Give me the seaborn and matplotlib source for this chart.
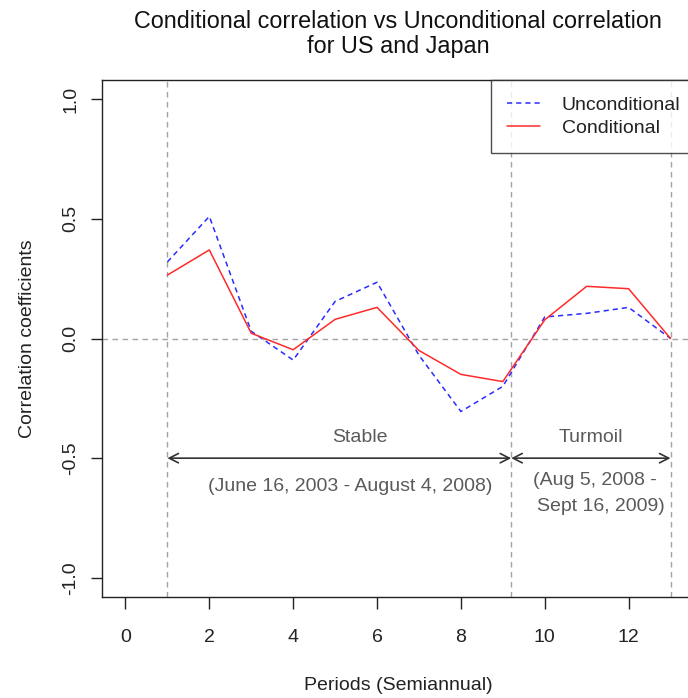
import matplotlib
matplotlib.use("Agg")
import matplotlib.pyplot as plt
import seaborn as sns
import pandas as pd

# Semiannual periods and correlation estimates
periods = [1, 2, 3, 4, 5, 6, 7, 8, 9, 10, 11, 12, 13]
unconditional = [0.32, 0.51, 0.03, -0.09, 0.155, 0.235, -0.07, -0.305, -0.20, 0.09, 0.105, 0.13, 0.0]
conditional = [0.265, 0.37, 0.022, -0.047, 0.08, 0.13, -0.05, -0.15, -0.18, 0.078, 0.218, 0.208, 0.0]

# Regime boundaries (in period units)
stable_start = 1
break_point = 9.2
turmoil_end = 13

x_ticks = [0, 2, 4, 6, 8, 10, 12]
y_ticks = [-1.0, -0.5, 0.0, 0.5, 1.0]
y_tick_labels = ["-1.0", "-0.5", "0.0", "0.5", "1.0"]

sns.set_style("ticks")
plt.rcParams["font.family"] = ["Liberation Sans", "DejaVu Sans"]

fig = plt.figure(figsize=(6.88, 6.98), dpi=100)
ax = fig.add_axes([102 / 688, 101 / 698, 592 / 688, 517 / 698])

df = pd.DataFrame({"period": periods, "Unconditional": unconditional, "Conditional": conditional})

grey = "#a3a3a3"
ax.axhline(0, color=grey, lw=1.0, dashes=(4, 3.2), zorder=1)
for xv in (stable_start, break_point, turmoil_end):
    ax.axvline(xv, color=grey, lw=1.0, dashes=(4, 3.2), zorder=1)

sns.lineplot(data=df, x="period", y="Unconditional", ax=ax, color="#2b2bff",
             lw=1.1, dashes=False, label="Unconditional", zorder=3)
ax.lines[-1].set_dashes((3.4, 2.6))
sns.lineplot(data=df, x="period", y="Conditional", ax=ax, color="#ff2b2b",
             lw=1.1, label="Conditional", zorder=3)

# Regime arrows and labels
arrow_kw = dict(arrowstyle="<->,head_length=0.55,head_width=0.28", color="#333333",
                lw=1.2, shrinkA=0, shrinkB=0, mutation_scale=12)
ax.annotate("", xy=(stable_start, -0.5), xytext=(break_point, -0.5), arrowprops=arrow_kw)
ax.annotate("", xy=(break_point, -0.5), xytext=(turmoil_end, -0.5), arrowprops=arrow_kw)

txt = "#5a5a5a"
ax.text(5.6, -0.415, "Stable", ha="center", va="center", fontsize=14, color=txt)
ax.text(11.1, -0.415, "Turmoil", ha="center", va="center", fontsize=14, color=txt)
ax.text(5.37, -0.62, "(June 16, 2003 - August 4, 2008)", ha="center", va="center",
        fontsize=14, color=txt)
ax.text(11.2, -0.595, "(Aug 5, 2008 -", ha="center", va="center", fontsize=14, color=txt)
ax.text(11.35, -0.70, "Sept 16, 2009)", ha="center", va="center", fontsize=14, color=txt)

ax.set_xlim(-0.56, 13.56)
ax.set_ylim(-1.08, 1.08)
ax.set_xticks(x_ticks)
ax.set_xticklabels([str(v) for v in x_ticks])
ax.set_yticks(y_ticks)
ax.set_yticklabels(y_tick_labels, rotation=90, va="center")

ax.tick_params(axis="x", length=8.6, width=1.0, pad=14.5, labelsize=14, colors="#222222")
ax.tick_params(axis="y", length=8, width=1.0, pad=8.5, labelsize=14, colors="#222222")
for s in ax.spines.values():
    s.set_linewidth(1.0)
    s.set_color("#222222")

ax.set_xlabel("Periods (Semiannual)", fontsize=14, color="#222222")
ax.set_ylabel("Correlation coefficients", fontsize=14, color="#222222")
ax.xaxis.set_label_coords(0.5, -0.154)
ax.yaxis.set_label_coords(-0.111, 0.5)

fig.text(398 / 688, 1 - 34 / 698,
         "Conditional correlation vs Unconditional correlation\nfor US and Japan",
         ha="center", va="center", fontsize=16.8, linespacing=1.15, color="#111111")

leg = ax.legend(loc="upper right", bbox_to_anchor=(1 + 3 / 592, 1), frameon=True,
                fancybox=False, fontsize=14, borderaxespad=0, handlelength=1.7,
                handletextpad=1.1, labelspacing=0.25, borderpad=0.85)
leg.get_frame().set_edgecolor("#222222")
leg.get_frame().set_linewidth(1.0)
for t in leg.get_texts():
    t.set_color("#222222")

fig.savefig("out.png", dpi=100)
